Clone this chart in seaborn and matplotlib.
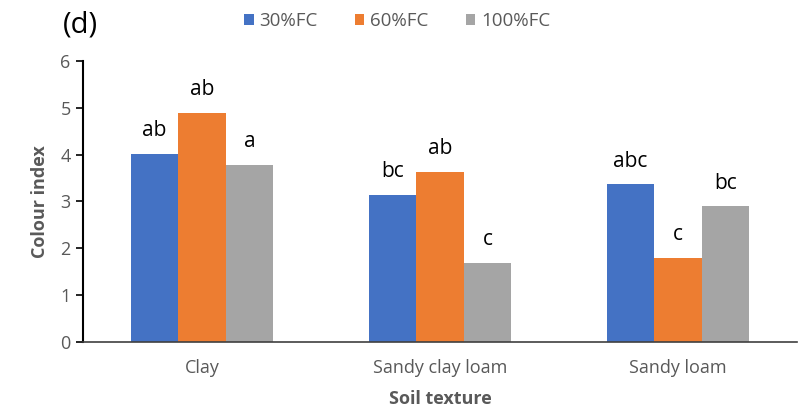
import matplotlib
matplotlib.use('Agg')
import matplotlib.pyplot as plt
import seaborn as sns
import pandas as pd

# Data
soils = ["Clay", "Sandy clay loam", "Sandy loam"]
treatments = ["30%FC", "60%FC", "100%FC"]
fc30 = [4.02, 3.14, 3.37]
fc60 = [4.89, 3.63, 1.80]
fc100 = [3.78, 1.69, 2.90]
letters30 = ["ab", "bc", "abc"]
letters60 = ["ab", "ab", "c"]
letters100 = ["a", "c", "bc"]

colors = ["#4472C4", "#ED7D31", "#A5A5A5"]

df = pd.DataFrame({
    "Soil texture": soils * 3,
    "Treatment": [t for t in treatments for _ in soils],
    "Colour index": fc30 + fc60 + fc100,
    "Letter": letters30 + letters60 + letters100,
})

sns.set_style("white")
plt.rcParams['font.family'] = ['Open Sans', 'DejaVu Sans']

fig = plt.figure(figsize=(8, 4.09), dpi=100)
ax = fig.add_axes([0.104, 0.164, 0.892, 0.687])

sns.barplot(data=df, x="Soil texture", y="Colour index", hue="Treatment",
            hue_order=treatments, order=soils, palette=colors, width=0.6,
            saturation=1, errorbar=None, ax=ax, linewidth=0)

# significance letters above each bar
for container, t in zip(ax.containers, treatments):
    sub = df[df["Treatment"] == t].set_index("Soil texture").loc[soils]
    for bar, letter in zip(container, sub["Letter"]):
        ax.annotate(letter, (bar.get_x() + bar.get_width() / 2, bar.get_height()),
                    xytext=(0, 9), textcoords="offset points",
                    ha="center", va="bottom", fontsize=15, color="black")

ax.set_ylim(0, 6)
ax.set_xlim(-0.5, 2.5)
ax.set_yticks(range(7))
ax.tick_params(axis="y", which="both", left=True, length=5, width=1.2,
               color="black", labelsize=13, labelcolor="#595959", pad=4)
ax.tick_params(axis="x", bottom=False, labelsize=13, labelcolor="#595959", pad=9)

sns.despine(ax=ax)
ax.spines["left"].set_color("black")
ax.spines["left"].set_linewidth(1.5)
ax.spines["bottom"].set_color("#404040")
ax.spines["bottom"].set_linewidth(1.2)

ax.set_xlabel("Soil texture", fontsize=13, fontweight="bold", color="#595959", labelpad=9)
ax.set_ylabel("Colour index", fontsize=13, fontweight="bold", color="#595959", labelpad=8)

leg = ax.legend(loc="lower center", bbox_to_anchor=(0.44, 1.05), ncol=3, frameon=False,
                fontsize=13.5, handlelength=0.5, handleheight=0.5, handletextpad=0.3,
                columnspacing=2.0)
for txt in leg.get_texts():
    txt.set_color("#595959")

fig.text(0.078, 0.94, "(d)", fontsize=21, color="black", ha="left", va="center")

fig.savefig("out.png", dpi=100)
